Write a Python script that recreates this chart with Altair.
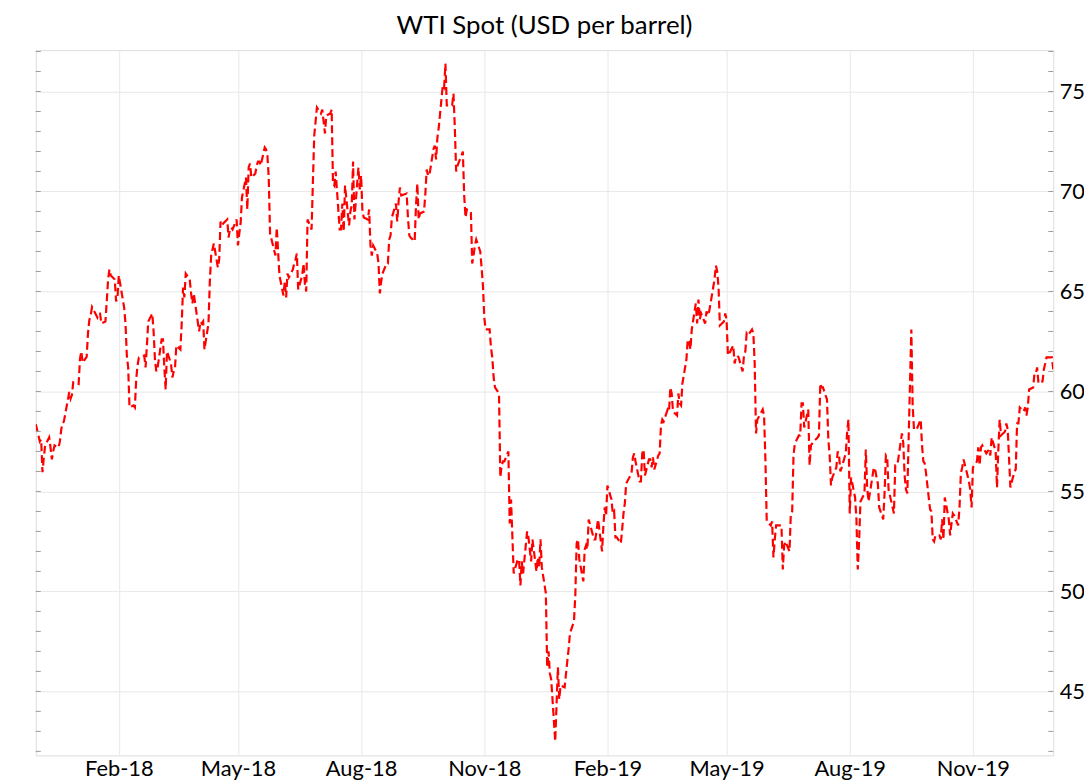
import altair as alt
import pandas as pd

# WTI spot price, USD per barrel, business days (Mon..Fri per row, None = no quote)
start_2017 = "2017-11-27"
weeks_2017 = [
    [None, None, None, None, 58.36],
    [57.5, 57.6, 55.96, 56.7, 57.3],
    [57.7, 57.2, 56.6, 57.0, 57.3],
    [57.2, 57.5, 58.1, 58.4, 58.5],
    [None, 59.97, 59.64, 59.84, 60.46],
]

start_2018a = "2018-01-01"
weeks_2018a = [
    [None, 60.37, 61.63, 62.01, 61.44],
    [61.73, 62.92, 63.57, 63.80, 64.22],
    [None, 63.7, 63.9, 63.9, 63.4],
    [63.5, 64.5, 65.6, 66.1, 65.8],
    [65.6, 64.5, 64.7, 65.8, 65.4],
    [64.2, 63.4, 61.8, 61.2, 59.2],
    [59.3, 59.2, 60.6, 61.3, 61.7],
    [None, 61.8, 61.2, 62.3, 63.5],
    [63.9, 63.0, 61.6, 61.0, 61.2],
    [62.6, 62.6, 61.2, 60.1, 62.0],
    [61.4, 60.7, 61.0, 61.2, 62.3],
    [62.1, 63.4, 65.2, 64.7, 65.9],
    [65.6, 64.9, 64.4, 64.9, None],
    [63.0, 63.5, 63.4, 63.5, 62.1],
    [63.4, 65.5, 66.8, 67.1, 67.4],
    [66.2, 66.6, 68.5, 68.3, 68.4],
    [68.6, 67.7, 68.1, 68.2, 68.1],
    [68.6, 67.3, 67.9, 68.4, 69.7],
    [70.7, 69.1, 71.2, 71.4, 70.7],
    [70.9, 71.3, 71.5, 71.5, 71.3],
    [72.2, 72.1, 71.8, 70.7, 67.9],
    [None, 66.8, 68.2, 67.0, 65.8],
    [64.8, 65.5, 64.7, 65.9, 65.7],
    [66.1, 66.4, 66.6, 66.9, 65.1],
    [65.8, 66.4, 65.4, 65.0, 68.6],
    [68.1, 70.5, 72.8, 73.5, 74.2],
]

start_2018b = "2018-07-02"
weeks_2018b = [
    [73.9, 74.1, None, 72.9, 73.8],
    [73.9, 74.1, 70.4, 70.3, 71.0],
    [68.1, 68.1, 69.4, 68.0, 70.3],
    [68.3, 69.0, 69.3, 71.5, 68.6],
    [71.2, 70.1, 70.8, 69.0, 68.7],
    [68.6, 69.1, 67.3, 66.8, 67.3],
    [66.9, 66.4, 64.9, 65.5, 65.9],
    [66.4, 66.4, 67.6, 67.8, 68.7],
    [69.4, 68.5, 69.5, 70.2, 69.8],
    [None, 69.9, 68.7, 67.8, 67.7],
    [67.5, 69.3, 70.4, 68.6, 68.9],
    [69.0, 69.9, 71.1, 70.8, 70.8],
    [72.1, 72.3, 71.6, 72.7, 73.2],
    [75.3, 75.2, 76.4, 74.3, 74.3],
    [74.3, 74.9, 73.2, 71.0, 71.3],
    [71.8, 72.0, 69.8, 68.7, 69.1],
    [69.0, 66.4, 66.8, 67.3, 67.6],
    [67.0, 66.2, 65.3, 63.7, 63.1],
    [63.1, 62.2, 61.7, 60.7, 60.2],
    [59.9, 55.7, 56.3, 56.5, 56.5],
    [57.0, 53.4, 54.6, None, 50.9],
    [51.6, 51.6, 50.3, 51.5, 50.9],
    [53.0, 52.7, None, 51.5, 52.6],
    [51.0, 51.7, 51.2, 52.6, 51.2],
    [49.9, 46.2, 47.0, 45.9, 45.6],
    [42.5, None, 46.2, 44.6, 45.3],
]

start_2019a = "2018-12-31"
weeks_2019a = [
    [45.2, None, 46.5, 47.1, 47.9],
    [48.5, 49.8, 52.4, 52.6, 51.6],
    [50.5, 52.1, 52.3, 52.1, 53.6],
    [None, 52.6, 52.6, 53.1, 53.6],
    [52.0, 53.3, 54.2, 53.8, 55.3],
    [54.6, 53.9, 54.0, 52.7, 52.7],
    [52.4, 53.1, 53.9, 54.4, 55.4],
    [None, 55.9, 56.7, 56.9, 56.5],
    [55.5, 55.5, 56.9, 57.1, 55.8],
    [56.6, 56.6, 56.2, 56.7, 56.1],
    [56.8, 56.9, 58.3, 58.6, 58.5],
    [59.1, 59.0, 60.2, 59.9, 59.0],
    [58.8, 59.9, 59.4, 59.3, 60.4],
    [61.6, 62.6, 62.5, 62.1, 63.1],
    [64.4, 63.4, 64.6, 63.6, 63.9],
    [63.4, 64.0, 63.8, 64.0, None],
    [65.6, 66.3, 66.0, 65.2, 63.3],
    [63.5, 63.9, 63.6, 61.8, 61.9],
    [62.3, 61.4, 61.7, 61.8, 61.7],
    [61.0, 61.8, 62.0, 62.9, 62.8],
    [63.1, 62.9, 61.4, 57.9, 58.6],
    [None, 59.1, 58.8, 56.6, 53.5],
    [53.3, 53.5, 51.7, 52.6, 53.3],
    [53.3, 53.3, 51.1, 52.3, 52.5],
    [52.0, 53.9, 54.0, 56.8, 57.4],
    [57.8, 57.8, 59.4, 59.4, 58.2],
]

start_2019b = "2019-07-01"
weeks_2019b = [
    [59.1, 56.3, 57.3, None, 57.5],
    [57.7, 57.8, 60.4, 60.2, 60.2],
    [59.6, 57.6, 56.8, 55.3, 55.7],
    [56.2, 57.0, 56.8, 56.0, 56.2],
    [56.9, 57.9, 58.6, 53.9, 55.7],
    [54.7, 53.6, 51.1, 52.5, 54.5],
    [54.9, 57.1, 55.2, 54.5, 54.9],
    [56.2, 56.1, 55.7, 55.4, 54.2],
    [53.6, 54.9, 56.8, 56.7, 55.1],
    [None, 53.9, 56.3, 56.3, 56.5],
    [57.9, 57.4, 55.8, 55.1, 54.9],
    [63.1, 59.3, 58.1, 58.1, 58.1],
    [58.6, 57.3, 56.5, 56.4, 55.9],
    [54.1, 54.0, 52.6, 52.5, 52.8],
    [52.8, 52.6, 53.6, 52.6, 54.7],
    [53.6, 52.8, 53.4, 53.9, 53.8],
    [53.3, 54.2, 55.9, 56.2, 56.6],
    [55.8, 55.5, 55.1, 54.2, 56.2],
    [56.5, 57.2, 56.3, 57.2, 57.3],
    [56.9, 57.0, 57.1, 56.8, 57.7],
    [57.0, 55.2, 57.1, 58.6, 57.8],
    [58.0, 58.4, 58.1, None, 55.2],
    [56.0, 56.1, 58.4, 58.4, 59.2],
    [59.0, 59.2, 58.8, 59.2, 60.1],
    [60.2, 60.9, 60.9, 61.2, 60.4],
    [60.5, 61.1, None, 61.7, 61.7],
    [61.7, 61.1],
]

tick_months = [(2018, 2), (2018, 5), (2018, 8), (2018, 11),
               (2019, 2), (2019, 5), (2019, 8), (2019, 11)]
y_labels = [45, 50, 55, 60, 65, 70, 75]
minor_ticks = list(range(42, 78))
title_text = "WTI Spot (USD per barrel)"

segments = [(start_2017, weeks_2017), (start_2018a, weeks_2018a),
            (start_2018b, weeks_2018b), (start_2019a, weeks_2019a),
            (start_2019b, weeks_2019b)]
rows = []
for start, weeks in segments:
    base = pd.Timestamp(start)
    for i, wk in enumerate(weeks):
        for d, v in enumerate(wk):
            if v is not None:
                rows.append({"date": base + pd.Timedelta(days=7 * i + d), "value": v})
df = pd.DataFrame(rows)
df_ticks = pd.DataFrame({"value": minor_ticks})

W, H = 1025, 710.5
FONT = "Lato"
GRID = "#e8e8e8"
FRAME = "#9a9a9a"

x_dom = [alt.DateTime(year=2017, month=12, date=1), alt.DateTime(year=2019, month=12, date=31)]
y_scale = alt.Scale(domain=[41.8, 77.07], nice=False, zero=False)
y_axis = alt.Axis(orient="right", values=y_labels, title=None, grid=True,
                  gridColor=GRID, ticks=False, domain=False, labelFontSize=22,
                  labelFont=FONT, labelColor="black", labelPadding=6)

line = alt.Chart(df).mark_line(
    color="#ff0000", strokeWidth=2.2, strokeDash=[8, 4], clip=True
).encode(
    x=alt.X("date:T", scale=alt.Scale(domain=x_dom, nice=False),
            axis=alt.Axis(values=[alt.DateTime(year=y, month=m, date=1) for y, m in tick_months],
                          format="%b-%y", title=None, grid=True, gridColor=GRID,
                          ticks=False, domain=False, labelFontSize=22, labelFont=FONT,
                          labelColor="black", labelPadding=3, labelFlush=False)),
    y=alt.Y("value:Q", scale=y_scale, axis=y_axis),
)

ticks_left = alt.Chart(df_ticks).mark_rule(color=FRAME, strokeWidth=1).encode(
    y=alt.Y("value:Q", scale=y_scale, axis=y_axis),
    x=alt.value(0), x2=alt.value(5),
)
ticks_right = alt.Chart(df_ticks).mark_rule(color=FRAME, strokeWidth=1).encode(
    y=alt.Y("value:Q", scale=y_scale, axis=y_axis),
    x=alt.value(W - 5), x2=alt.value(W),
)

chart = alt.layer(line, ticks_left, ticks_right).properties(
    width=W, height=H,
    title=alt.TitleParams(title_text, font=FONT, fontSize=26, fontWeight="normal",
                          color="black", anchor="middle", offset=11),
    autosize=alt.AutoSizeParams(type="none"),
    padding={"left": 28, "top": 39.5, "right": 31, "bottom": 40},
).configure_view(stroke=FRAME, strokeWidth=1).configure(background="white")

chart.save("out.html", embed_options={"renderer": "svg", "actions": False})
